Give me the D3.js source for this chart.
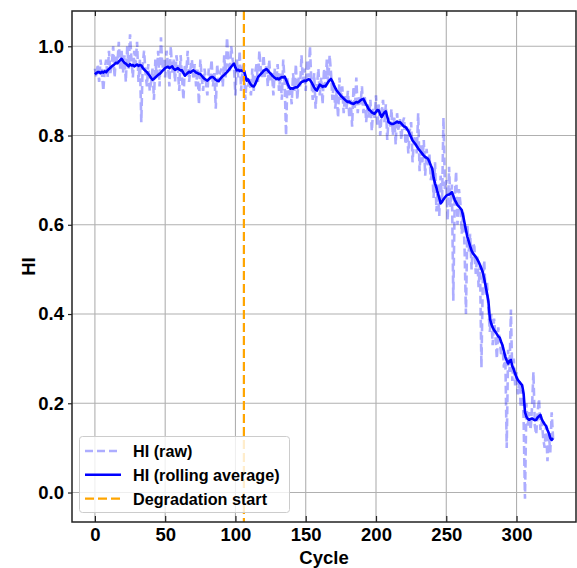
<!DOCTYPE html>
<html>
<head>
<meta charset="utf-8">
<script src="https://cdn.jsdelivr.net/npm/d3@7"></script>
<style>
  html, body { margin: 0; padding: 0; background: #fff; }
  svg { display: block; font-family: "Liberation Sans", Arial, sans-serif; }
</style>
</head>
<body>
<svg id="chart" width="577" height="568"></svg>
<script>
// Health indicator per cycle (raw measurement)
const hiRaw = [
  0.95, 0.93, 0.96, 0.92, 0.97, 0.94, 0.90, 0.95, 0.97, 0.93,
  0.99, 0.94, 0.96, 1.00, 0.93, 0.98, 0.96, 1.01, 0.95, 0.99,
  0.94, 0.98, 0.92, 1.00, 0.95, 1.027, 0.97, 0.93, 0.99, 0.96,
  1.01, 0.92, 0.97, 0.83, 0.96, 0.99, 0.94, 0.91, 0.96, 0.90,
  0.92, 0.95, 0.88, 0.97, 0.93, 0.99, 0.91, 1.02, 0.95, 0.97,
  0.93, 0.99, 0.96, 0.91, 1.00, 0.94, 0.97, 0.92, 0.98, 0.95,
  0.90, 0.98, 0.93, 0.88, 0.96, 0.94, 0.99, 0.92, 0.95, 0.97,
  0.93, 0.96, 0.91, 0.95, 0.87, 0.97, 0.93, 0.90, 0.95, 0.92,
  0.89, 0.95, 0.93, 0.97, 0.91, 0.94, 0.86, 0.96, 0.92, 0.94,
  0.95, 0.91, 0.98, 0.93, 1.02, 0.96, 0.94, 1.00, 0.97, 0.95,
  0.89, 0.97, 0.93, 0.99, 0.90, 0.95, 0.96, 0.88, 0.93, 0.91,
  0.93, 0.89, 0.95, 0.90, 0.94, 0.96, 0.92, 0.99, 0.95, 0.93,
  0.98, 0.93, 0.96, 0.91, 0.97, 0.92, 0.94, 0.89, 0.95, 0.92,
  0.96, 0.90, 0.94, 0.88, 0.97, 0.92, 0.80, 0.93, 0.89, 0.91,
  0.87, 0.94, 0.90, 0.96, 0.88, 0.93, 0.91, 0.98, 0.92, 0.95,
  0.90, 0.97, 0.93, 1.00, 0.92, 0.88, 0.94, 0.86, 0.91, 0.95,
  0.89, 0.93, 0.87, 0.95, 0.91, 0.97, 0.92, 0.98, 0.94, 0.88,
  0.92, 0.86, 0.90, 0.84, 0.93, 0.88, 0.91, 0.85, 0.89, 0.86,
  0.90, 0.84, 0.88, 0.82, 0.91, 0.86, 0.93, 0.85, 0.89, 0.87,
  0.91, 0.85, 0.89, 0.83, 0.87, 0.84, 0.88, 0.81, 0.86, 0.84,
  0.89, 0.82, 0.87, 0.80, 0.85, 0.88, 0.83, 0.87, 0.79, 0.84,
  0.82, 0.86, 0.80, 0.84, 0.78, 0.85, 0.81, 0.84, 0.79, 0.83,
  0.84, 0.78, 0.82, 0.76, 0.81, 0.83, 0.74, 0.79, 0.80, 0.76,
  0.85, 0.72, 0.78, 0.74, 0.79, 0.71, 0.77, 0.73, 0.76, 0.70,
  0.72, 0.66, 0.74, 0.63, 0.69, 0.62, 0.71, 0.65, 0.84, 0.68,
  0.70, 0.61, 0.73, 0.64, 0.69, 0.43, 0.66, 0.72, 0.60, 0.68,
  0.65, 0.58, 0.63, 0.55, 0.40, 0.60, 0.54, 0.58, 0.50, 0.56,
  0.55, 0.49, 0.53, 0.46, 0.51, 0.28, 0.48, 0.52, 0.44, 0.47,
  0.41, 0.36, 0.40, 0.33, 0.39, 0.35, 0.30, 0.37, 0.34, 0.31,
  0.33, 0.28, 0.31, 0.10, 0.32, 0.27, 0.41, 0.25, 0.30, 0.24,
  0.27, 0.22, 0.25, 0.19, 0.23, 0.17, -0.014, 0.20, 0.15, 0.18,
  0.14, 0.19, 0.27, 0.15, 0.13, 0.18, 0.21, 0.14, 0.16, 0.12,
  0.10, 0.15, 0.07, 0.13, 0.09, 0.18, 0.12
];

// Smoothed health indicator (rolling average) per cycle
const hiRolling = [
  0.937, 0.940, 0.942, 0.942, 0.940, 0.943, 0.941, 0.944, 0.942, 0.946,
  0.949, 0.952, 0.955, 0.957, 0.960, 0.963, 0.962, 0.966, 0.969, 0.972,
  0.967, 0.963, 0.961, 0.958, 0.955, 0.960, 0.957, 0.958, 0.955, 0.957,
  0.959, 0.956, 0.958, 0.957, 0.952, 0.948, 0.945, 0.942, 0.938, 0.934,
  0.929, 0.925, 0.927, 0.930, 0.933, 0.936, 0.938, 0.941, 0.945, 0.948,
  0.951, 0.953, 0.954, 0.951, 0.953, 0.955, 0.950, 0.947, 0.949, 0.951,
  0.948, 0.946, 0.946, 0.940, 0.934, 0.937, 0.940, 0.943, 0.941, 0.944,
  0.946, 0.944, 0.941, 0.940, 0.938, 0.938, 0.934, 0.930, 0.927, 0.925,
  0.923, 0.926, 0.929, 0.931, 0.931, 0.928, 0.925, 0.923, 0.922, 0.926,
  0.930, 0.933, 0.936, 0.939, 0.942, 0.946, 0.950, 0.954, 0.958, 0.961,
  0.952, 0.946, 0.947, 0.945, 0.946, 0.944, 0.946, 0.935, 0.923, 0.926,
  0.919, 0.914, 0.911, 0.910, 0.915, 0.922, 0.931, 0.934, 0.938, 0.941,
  0.945, 0.947, 0.949, 0.946, 0.942, 0.939, 0.935, 0.932, 0.929, 0.927,
  0.928, 0.926, 0.929, 0.931, 0.930, 0.932, 0.925, 0.917, 0.910, 0.905,
  0.906, 0.905, 0.907, 0.908, 0.908, 0.912, 0.916, 0.920, 0.921, 0.923,
  0.922, 0.924, 0.926, 0.925, 0.920, 0.914, 0.908, 0.903, 0.901, 0.908,
  0.914, 0.912, 0.909, 0.911, 0.910, 0.915, 0.920, 0.924, 0.927, 0.921,
  0.913, 0.907, 0.901, 0.897, 0.893, 0.889, 0.886, 0.883, 0.880, 0.877,
  0.875, 0.876, 0.873, 0.872, 0.871, 0.873, 0.875, 0.874, 0.876, 0.879,
  0.881, 0.882, 0.876, 0.870, 0.864, 0.858, 0.856, 0.852, 0.850, 0.849,
  0.853, 0.857, 0.856, 0.848, 0.841, 0.847, 0.852, 0.854, 0.842, 0.830,
  0.828, 0.826, 0.826, 0.827, 0.829, 0.831, 0.829, 0.830, 0.827, 0.823,
  0.820, 0.819, 0.815, 0.810, 0.803, 0.796, 0.789, 0.785, 0.781, 0.776,
  0.771, 0.767, 0.763, 0.759, 0.755, 0.752, 0.750, 0.748, 0.741, 0.733,
  0.726, 0.705, 0.693, 0.683, 0.671, 0.660, 0.648, 0.652, 0.657, 0.661,
  0.665, 0.667, 0.668, 0.670, 0.673, 0.665, 0.656, 0.650, 0.644, 0.641,
  0.637, 0.633, 0.620, 0.604, 0.588, 0.573, 0.563, 0.552, 0.542, 0.536,
  0.532, 0.528, 0.523, 0.517, 0.510, 0.502, 0.493, 0.479, 0.463, 0.446,
  0.428, 0.390, 0.378, 0.370, 0.364, 0.360, 0.355, 0.350, 0.347, 0.338,
  0.330, 0.317, 0.304, 0.296, 0.289, 0.295, 0.297, 0.283, 0.276, 0.266,
  0.258, 0.252, 0.248, 0.244, 0.240, 0.222, 0.180, 0.170, 0.165, 0.163,
  0.165, 0.166, 0.164, 0.162, 0.163, 0.168, 0.171, 0.174, 0.164, 0.158,
  0.153, 0.149, 0.140, 0.133, 0.122, 0.118, 0.122
];

const degradationStart = 106;
const xTicks = [0, 50, 100, 150, 200, 250, 300];
const yTicks = [0.0, 0.2, 0.4, 0.6, 0.8, 1.0];
const legendLabels = ["HI (raw)", "HI (rolling average)", "Degradation start"];

const svg = d3.select("#chart");
const plot = { left: 72, right: 576, top: 11, bottom: 522 };

// Axis limits padded by 5% of the data span on each side
function padded([lo, hi]) {
  const m = (hi - lo) * 0.05;
  return [lo - m, hi + m];
}
const xDomain = padded([0, hiRaw.length - 1]);
const yDomain = padded(d3.extent(hiRaw.concat(hiRolling)));

const x = d3.scaleLinear().domain(xDomain).range([plot.left, plot.right]);
const y = d3.scaleLinear().domain(yDomain).range([plot.bottom, plot.top]);

svg.append("defs").append("clipPath").attr("id", "plot-clip")
  .append("rect")
  .attr("x", plot.left).attr("y", plot.top)
  .attr("width", plot.right - plot.left).attr("height", plot.bottom - plot.top);

// Grid
const grid = svg.append("g").attr("stroke", "#b0b0b0").attr("stroke-width", 1.1);
grid.selectAll(".gx").data(xTicks).join("line")
  .attr("x1", d => x(d)).attr("x2", d => x(d))
  .attr("y1", plot.top).attr("y2", plot.bottom);
grid.selectAll(".gy").data(yTicks).join("line")
  .attr("x1", plot.left).attr("x2", plot.right)
  .attr("y1", d => y(d)).attr("y2", d => y(d));

const lines = svg.append("g").attr("clip-path", "url(#plot-clip)");

// Raw series
lines.append("path")
  .datum(hiRaw)
  .attr("fill", "none")
  .attr("stroke", "#0000ff")
  .attr("stroke-opacity", 0.32)
  .attr("stroke-width", 2.6)
  .attr("stroke-dasharray", "8,4")
  .attr("d", d3.line().x((d, i) => x(i)).y(d => y(d)));

// Rolling average
lines.append("path")
  .datum(hiRolling)
  .attr("fill", "none")
  .attr("stroke", "#0000ff")
  .attr("stroke-width", 2.6)
  .attr("stroke-linejoin", "round")
  .attr("d", d3.line().x((d, i) => x(i)).y(d => y(d)));

// Degradation start marker
lines.append("line")
  .attr("x1", x(degradationStart)).attr("x2", x(degradationStart))
  .attr("y1", plot.top).attr("y2", plot.bottom)
  .attr("stroke", "#ffa500")
  .attr("stroke-width", 2.2)
  .attr("stroke-dasharray", "9,4");

// Axes
const tickFont = "bold 18.5px 'Liberation Sans', Arial, sans-serif";
const xAxis = svg.append("g")
  .attr("transform", `translate(0,${plot.bottom})`)
  .call(d3.axisBottom(x).tickValues(xTicks).tickSize(-6).tickPadding(6).tickFormat(d3.format("d")));
const yAxis = svg.append("g")
  .attr("transform", `translate(${plot.left},0)`)
  .call(d3.axisLeft(y).tickValues(yTicks).tickSize(4).tickPadding(4).tickFormat(d3.format(".1f")));
const xTop = svg.append("g")
  .attr("transform", `translate(0,${plot.top})`)
  .call(d3.axisTop(x).tickValues(xTicks).tickSize(-5).tickFormat(""));

[xAxis, yAxis, xTop].forEach(g => {
  g.select(".domain").remove();
  g.selectAll(".tick line").attr("stroke", "#222").attr("stroke-width", 1.2);
  g.selectAll("text").style("font", tickFont).attr("fill", "#000");
});

// Frame
svg.append("rect")
  .attr("x", plot.left).attr("y", plot.top)
  .attr("width", plot.right - plot.left).attr("height", plot.bottom - plot.top)
  .attr("fill", "none").attr("stroke", "#222").attr("stroke-width", 1.5);

// Axis titles
svg.append("text")
  .attr("x", (plot.left + plot.right) / 2).attr("y", 564)
  .attr("text-anchor", "middle")
  .style("font", "bold 18.5px 'Liberation Sans', Arial, sans-serif")
  .text("Cycle");
svg.append("text")
  .attr("transform", `translate(35,${(plot.top + plot.bottom) / 2}) rotate(-90)`)
  .attr("text-anchor", "middle")
  .style("font", "bold 18.5px 'Liberation Sans', Arial, sans-serif")
  .text("HI");

// Legend
const legend = svg.append("g");
legend.append("rect")
  .attr("x", 79.5).attr("y", 436.5).attr("width", 210).attr("height", 76)
  .attr("rx", 3)
  .attr("fill", "#fff").attr("fill-opacity", 0.8)
  .attr("stroke", "#cccccc").attr("stroke-width", 1);
const legendStyles = [
  { stroke: "#0000ff", opacity: 0.32, width: 2.6, dash: "8,4" },
  { stroke: "#0000ff", opacity: 1, width: 2.6, dash: null },
  { stroke: "#ffa500", opacity: 1, width: 2.2, dash: "9,4" }
];
legendLabels.forEach((label, i) => {
  const cy = 451 + i * 23.8;
  const s = legendStyles[i];
  legend.append("line")
    .attr("x1", 85).attr("x2", 121).attr("y1", cy).attr("y2", cy)
    .attr("stroke", s.stroke).attr("stroke-opacity", s.opacity)
    .attr("stroke-width", s.width)
    .attr("stroke-dasharray", s.dash);
  legend.append("text")
    .attr("x", 133).attr("y", cy + 6)
    .style("font", "bold 16.2px 'Liberation Sans', Arial, sans-serif")
    .attr("fill", "#000")
    .text(label);
});
</script>
</body>
</html>
